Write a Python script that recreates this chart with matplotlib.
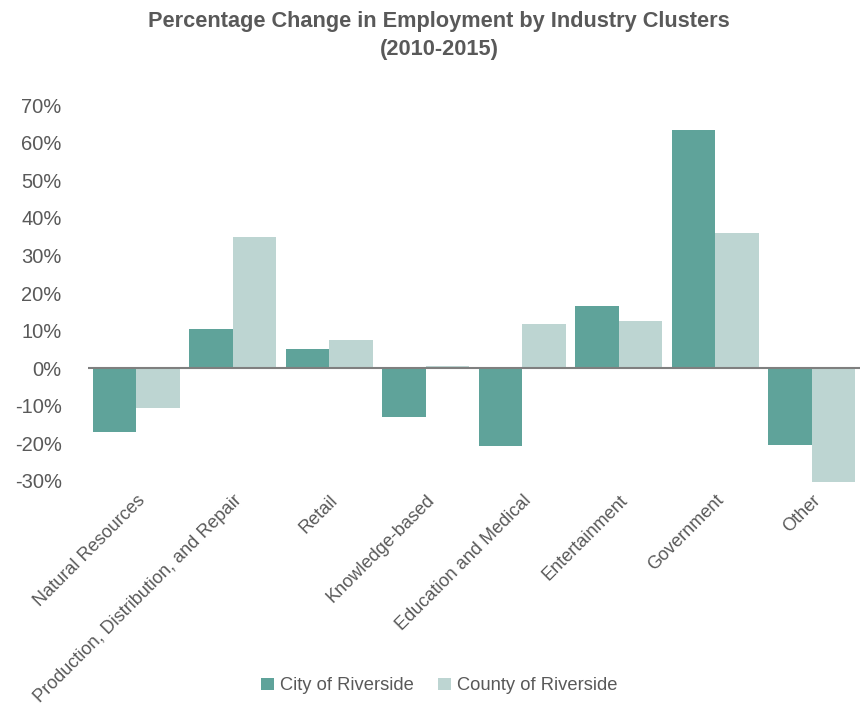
import numpy as np
import matplotlib.pyplot as plt

categories = ['Natural Resources', 'Production, Distribution, and Repair', 'Retail',
              'Knowledge-based', 'Education and Medical', 'Entertainment',
              'Government', 'Other']
city = [-17.0, 10.4, 5.1, -13.0, -20.7, 16.5, 63.3, -20.5]
county = [-10.6, 34.8, 7.4, 0.5, 11.7, 12.5, 35.9, -30.3]
yticks = [-30, -20, -10, 0, 10, 20, 30, 40, 50, 60, 70]

plt.rcParams['font.family'] = ['Liberation Sans', 'DejaVu Sans']
grey = '#595959'

fig = plt.figure(figsize=(8.63, 7.10), dpi=100)
ax = fig.add_axes([0.102, 0.321, 0.8945, 0.531])

x = np.arange(len(categories))
w = 0.45
ax.bar(x - w/2, city, w, color='#5fa39a', label='City of Riverside')
ax.bar(x + w/2, county, w, color='#bdd5d2', label='County of Riverside')

ax.axhline(0, color='#7f7f7f', lw=1.5)
ax.set_xlim(-0.5, len(categories) - 0.5)
ax.set_ylim(-30.3, 70)
ax.set_yticks(yticks)
ax.set_yticklabels([f'{t}%' for t in yticks], fontsize=14.5, color=grey)
ax.set_xticks(x)
ax.set_xticklabels(categories, rotation=45, ha='right', rotation_mode='anchor',
                   fontsize=13.1, color=grey)
ax.tick_params(axis='both', length=0)
ax.tick_params(axis='y', pad=19)
ax.tick_params(axis='x', pad=7)
for s in ax.spines.values():
    s.set_visible(False)

fig.suptitle('Percentage Change in Employment by Industry Clusters\n(2010-2015)',
             x=0.509, y=0.985, fontsize=15.7, fontweight='bold', color=grey,
             linespacing=1.45)

fig.legend(loc='center', bbox_to_anchor=(0.509, 0.034), ncol=2, frameon=False,
           fontsize=13.2, labelcolor=grey, handlelength=0.7, handleheight=0.7,
           handletextpad=0.35, columnspacing=1.3)

fig.savefig('out.png', dpi=100)
